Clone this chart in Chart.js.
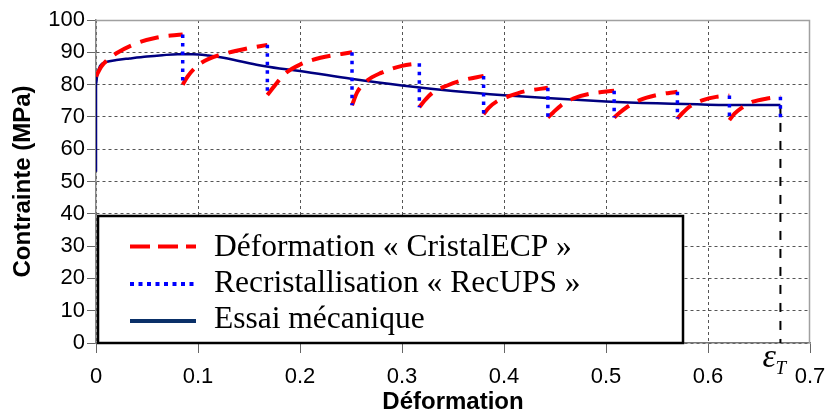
<!DOCTYPE html>
<html>
<head>
<meta charset="utf-8">
<script src="https://cdn.jsdelivr.net/npm/chart.js@4.4.1/dist/chart.umd.min.js"></script>
<style>
  html, body { margin: 0; padding: 0; background: #fff; }
  #wrap { width: 828px; height: 414px; }
</style>
</head>
<body>
<div id="wrap"><canvas id="myChart" width="828" height="414"></canvas></div>
<script>
// essai mécanique
const essaiStrain = [0, 0, 0.001, 0.004, 0.01, 0.02, 0.033, 0.05, 0.065, 0.08, 0.095, 0.11, 0.125, 0.14, 0.16, 0.18, 0.2, 0.25, 0.3, 0.35, 0.4, 0.45, 0.5, 0.55, 0.6, 0.65, 0.671];
const essaiStress = [53, 80, 82.5, 85.8, 87, 87.6, 88.1, 88.7, 89.1, 89.4, 89.4, 89, 88.3, 87.3, 86, 85, 84.2, 81.8, 79.7, 78, 76.7, 75.7, 74.8, 74.2, 73.8, 73.7, 73.7];

// CristalECP : one hardening segment between two recrystallisations (null = break)
const cristalStrain = [
  0, 0.005, 0.01, 0.02, 0.04, 0.06, 0.085, null,
  0.085, 0.09, 0.1, 0.11, 0.13, 0.15, 0.168, null,
  0.168, 0.175, 0.185, 0.2, 0.22, 0.251, null,
  0.251, 0.256, 0.265, 0.28, 0.3, 0.317, null,
  0.317, 0.322, 0.33, 0.345, 0.36, 0.38, null,
  0.38, 0.385, 0.393, 0.405, 0.42, 0.443, null,
  0.443, 0.448, 0.456, 0.468, 0.485, 0.508, null,
  0.508, 0.513, 0.52, 0.533, 0.55, 0.57, null,
  0.57, 0.575, 0.583, 0.595, 0.608, 0.621, null,
  0.621, 0.626, 0.633, 0.644, 0.658, 0.671
];
const cristalStress = [
  82.5, 85.5, 87.3, 89.7, 92.8, 94.6, 95.5, null,
  80, 82.6, 86.0, 87.9, 89.9, 91.3, 92.3, null,
  76.8, 79.6, 83.3, 86.2, 88.3, 90.0, null,
  73.6, 77.6, 81.0, 83.7, 85.8, 86.6, null,
  73.0, 75.0, 77.5, 79.8, 81.4, 82.7, null,
  70.8, 72.8, 74.8, 76.4, 77.9, 79.0, null,
  69.8, 71.3, 73.6, 75.7, 77.2, 78.1, null,
  69.8, 71.2, 72.9, 75.2, 76.8, 77.8, null,
  69.5, 71.2, 73.4, 75.2, 76.2, 76.6, null,
  69.0, 71.0, 72.8, 74.7, 75.7, 76.2
];

// RecUPS : stress drop at each recrystallisation
const recupsStrain = [0.085, 0.168, 0.251, 0.317, 0.38, 0.443, 0.508, 0.57, 0.621, 0.671];
const recupsBefore = [95.5, 92.3, 90.0, 86.6, 82.7, 79.0, 78.1, 77.8, 76.6, 76.2];
const recupsAfter = [80.0, 76.8, 73.6, 73.0, 70.8, 69.8, 69.8, 69.5, 69.0, 68.5];

const epsT = 0.671;
const epsTStress = 73.7;

const legendLabels = ['Déformation « CristalECP »', 'Recristallisation « RecUPS »', 'Essai mécanique'];

function toPoints(xs, ys) {
  var pts = [];
  var lastX = 0;
  for (var i = 0; i < xs.length; i++) {
    if (xs[i] === null || ys[i] === null) {
      pts.push({ x: lastX, y: null });
    } else {
      pts.push({ x: xs[i], y: ys[i] });
      lastX = xs[i];
    }
  }
  return pts;
}

var dropPts = [];
recupsStrain.forEach(function (x, i) {
  dropPts.push({ x: x, y: recupsBefore[i] });
  dropPts.push({ x: x, y: recupsAfter[i] });
  dropPts.push({ x: x, y: null });
});

const gridDash = [3, 3];
const sans = '"Liberation Sans", Arial, sans-serif';

// white legend box drawn inside the plot, plus frame and epsilon label
const extras = {
  id: 'extras',
  beforeDatasetsDraw(chart) {
    const { ctx, chartArea: a } = chart;
    ctx.save();
    ctx.strokeStyle = '#a0a0a0';
    ctx.lineWidth = 1.5;
    ctx.beginPath();
    ctx.moveTo(a.left, a.top + 0.5);
    ctx.lineTo(a.right - 0.5, a.top + 0.5);
    ctx.lineTo(a.right - 0.5, a.bottom);
    ctx.stroke();
    ctx.restore();
  },
  afterDraw(chart) {
    const { ctx, chartArea: a, scales } = chart;
    ctx.save();
    // legend
    const bx = a.left + 2, by = 216, bw = 585, bh = a.bottom - 216;
    ctx.fillStyle = '#fff';
    ctx.fillRect(bx, by, bw, bh);
    ctx.strokeStyle = '#000';
    ctx.lineWidth = 2.5;
    ctx.strokeRect(bx, by, bw, bh);

    const rows = [246.5, 284, 321];
    const base = [256, 292, 328];
    const styles = [
      { color: '#ff0000', dash: [20, 8], width: 4 },
      { color: '#0000ff', dash: [4, 4.5], width: 4 },
      { color: '#0a3068', dash: [], width: 4 }
    ];
    styles.forEach(function (s, i) {
      ctx.beginPath();
      ctx.strokeStyle = s.color;
      ctx.lineWidth = s.width;
      ctx.setLineDash(s.dash);
      ctx.moveTo(130, rows[i]);
      ctx.lineTo(196, rows[i]);
      ctx.stroke();
    });
    ctx.setLineDash([]);
    ctx.fillStyle = '#000';
    ctx.font = '31.5px "Liberation Serif", "Times New Roman", serif';
    ctx.textBaseline = 'alphabetic';
    legendLabels.forEach(function (t, i) {
      ctx.fillText(t, 214, base[i]);
    });

    // epsilon_T under the vertical marker
    const ex = scales.x.getPixelForValue(epsT);
    ctx.font = 'italic 34px "Liberation Serif", serif';
    ctx.fillText('ε', ex - 18, 367);
    ctx.font = 'italic 19px "Liberation Serif", serif';
    ctx.fillText('T', ex - 5, 374);
    ctx.restore();
  }
};

new Chart(document.getElementById('myChart'), {
  type: 'line',
  data: {
    datasets: [
      {
        label: legendLabels[1],
        data: dropPts,
        borderColor: '#0000ff',
        borderWidth: 3.5,
        borderDash: [3.5, 5],
        pointRadius: 0,
        order: 0
      },
      {
        label: legendLabels[0],
        data: toPoints(cristalStrain, cristalStress),
        borderColor: '#ff0000',
        borderWidth: 4,
        borderDash: [19, 10],
        cubicInterpolationMode: 'monotone',
        pointRadius: 0,
        order: 1
      },
      {
        label: legendLabels[2],
        data: toPoints(essaiStrain, essaiStress),
        borderColor: '#000080',
        borderWidth: 2.5,
        cubicInterpolationMode: 'monotone',
        pointRadius: 0,
        order: 2
      },
      {
        label: 'epsT',
        data: [{ x: epsT, y: epsTStress }, { x: epsT, y: 0 }],
        borderColor: '#000',
        borderWidth: 2,
        borderDash: [9, 9],
        pointRadius: 0,
        order: 3
      }
    ]
  },
  options: {
    responsive: false,
    animation: false,
    layout: { padding: { left: 0, right: 18, top: 20, bottom: 0 } },
    plugins: {
      legend: { display: false },
      tooltip: { enabled: false }
    },
    scales: {
      x: {
        type: 'linear',
        min: 0,
        max: 0.7,
        ticks: {
          stepSize: 0.1,
          color: '#000',
          padding: 11,
          font: { family: sans, size: 22 }
        },
        grid: {
          color: function (c) { return (c.tick && c.tick.value > 0.69) ? 'rgba(0,0,0,0)' : '#555'; },
          tickColor: '#666',
          tickLength: 10
        },
        border: { color: '#777', width: 1.5, dash: gridDash },
        title: {
          display: true,
          text: 'Déformation',
          color: '#000',
          padding: { top: 0, bottom: 0 },
          font: { family: sans, size: 24, weight: 'bold', lineHeight: 1 }
        },
        afterFit: function (s) {
          s.height = 71;
          s.paddingLeft = 0;
          s.paddingRight = 0;
        }
      },
      y: {
        min: 0,
        max: 100,
        ticks: {
          stepSize: 10,
          color: '#000',
          padding: 2,
          font: { family: sans, size: 22 }
        },
        grid: {
          color: function (c) { return (c.tick && c.tick.value > 99) ? 'rgba(0,0,0,0)' : '#555'; },
          tickColor: '#666',
          tickLength: 9
        },
        border: { color: '#888', width: 1.5, dash: gridDash },
        title: {
          display: true,
          text: 'Contrainte (MPa)',
          color: '#000',
          padding: { top: 11, bottom: 0 },
          font: { family: sans, size: 24, weight: 'bold', lineHeight: 1 }
        },
        afterFit: function (s) {
          s.width = 96;
          s.paddingTop = 0;
          s.paddingBottom = 0;
        }
      }
    }
  },
  plugins: [extras]
});
</script>
</body>
</html>
